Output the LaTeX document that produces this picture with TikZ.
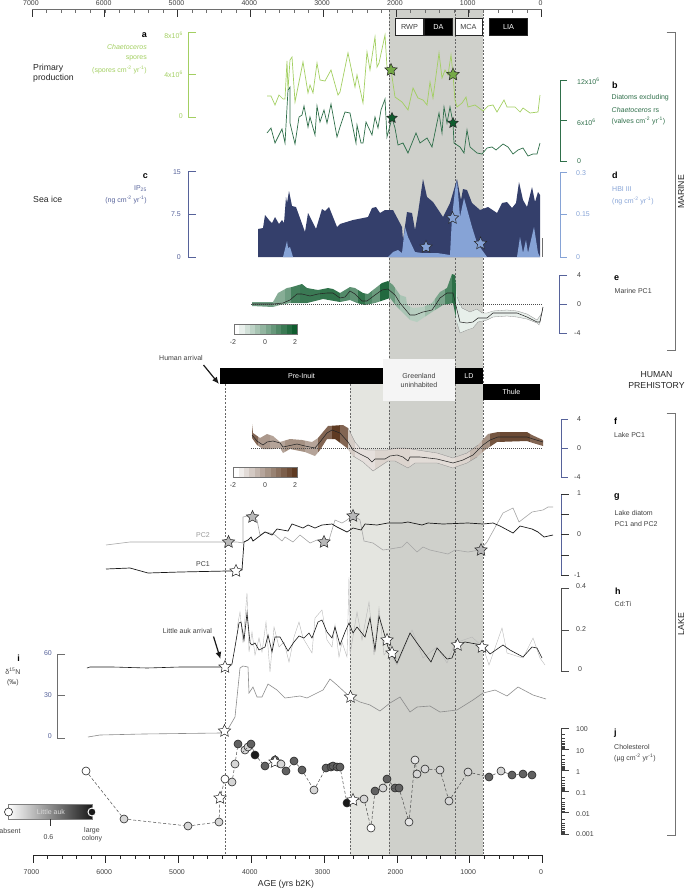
\documentclass[tikz,border=0pt]{standalone}
\usepackage{fontspec}
\setmainfont{Liberation Sans}
\usetikzlibrary{shapes.geometric, arrows.meta, positioning}
\definecolor{bandA}{HTML}{CFD0CB}
\definecolor{bandB}{HTML}{E4E5E0}
\definecolor{spores}{HTML}{A3CF62}
\definecolor{diatoms}{HTML}{2F6F4A}
\definecolor{navyice}{HTML}{343F6B}
\definecolor{axisice}{HTML}{56629A}
\definecolor{hbi}{HTML}{86A3D6}
\definecolor{marineC}{HTML}{0F5C2E}
\definecolor{lakeC}{HTML}{5E3A22}
\definecolor{axisgrey}{HTML}{6E6E6E}
\tikzstyle{tiny} = [font=\fontsize{7}{8.4}\selectfont, inner sep=0pt, text=black!75]
\tikzstyle{panel} = [font=\bfseries\fontsize{9}{10}\selectfont, inner sep=0pt]
\tikzstyle{head} = [font=\fontsize{8.7}{10.4}\selectfont, inner sep=0pt, text=black!85]
\tikzstyle{period} = [draw=black!85, line width=1pt, inner sep=0pt, minimum height=17pt, font=\fontsize{7.3}{8}\selectfont]
\tikzstyle{human} = [fill=black, text=white, inner sep=0pt, font=\fontsize{7.1}{8}\selectfont]
\tikzstyle{event} = [star, star points=5, star point ratio=2.1, draw=black!85, line width=0.5pt, inner sep=0pt, minimum size=13pt]
\tikzstyle{auk} = [circle, draw=black!85, line width=0.6pt, inner sep=0pt, minimum size=8pt]
\tikzstyle{auklink} = [black!70, line width=0.5pt, dash pattern=on 3pt off 2pt]
\tikzstyle{cutline} = [black!60, line width=0.6pt, dash pattern=on 2pt off 1.6pt]
\tikzstyle{zeroline} = [black!70, line width=0.5pt, dash pattern=on 1pt off 1pt]
\tikzstyle{bandedge} = [black!45, line width=0.3pt]
\tikzstyle{bigarrow} = [-{Latex[length=7pt,width=6pt]}, line width=1.2pt, black!90]
\newcommand{\marineband}{(252,302) (273,302) (278,293) (287,288) (292,287) (302,284) (307,288) (318,290) (328,288) (333,289) (340,293) (345,290) (350,287) (355,288) (363,293) (368,294) (373,290) (382,283) (388,281) (393,285) (400,295) (406,297) (407,305) (413,308) (423,307) (432,303) (440,292) (447,288) (452,274) (455,275) (457,297) (462,308) (470,312) (477,309) (482,313) (487,313) (493,311) (507,310) (517,311) (527,314) (537,320) (542,313) (543,307) (539,325) (537,323) (527,319) (517,317) (507,316) (493,317) (487,320) (478,322) (473,328) (467,330) (460,333) (457,323) (453,303) (443,305) (432,312) (423,318) (417,322) (410,320) (403,313) (397,307) (390,298) (375,303) (365,305) (357,303) (350,300) (340,302) (323,299) (307,303) (290,303) (280,305) (273,307) (252,306)}
\newcommand{\lakeband}{(252,424) (253,433) (260,438) (267,434) (273,436) (280,442) (290,439) (302,440) (312,442) (318,438) (328,426) (343,425) (348,428) (355,442) (360,448) (368,450) (387,450) (397,448) (405,448) (417,450) (437,453) (453,458) (467,453) (478,445) (488,434) (498,432) (527,432) (532,435) (543,440) (543,446) (533,443) (527,441) (497,442) (485,450) (477,457) (467,463) (453,468) (437,463) (415,463) (408,468) (395,461) (388,461) (373,471) (363,462) (353,456) (347,448) (335,439) (327,439) (320,450) (315,456) (305,452) (290,449) (283,453) (280,448) (273,449) (263,449) (257,445) (252,438)}

\begin{document}
\begin{tikzpicture}[x=1pt,y=-1pt,>=latex]
    \useasboundingbox (0,0) rectangle (685,889);
    % bands
    \fill[bandA] (389,10) rectangle (483,855);
    \fill[bandB] (350,384) rectangle (389,855);
    \foreach \x in {389,455,483} \draw[cutline] (\x,10) -- (\x,855);
    \foreach \x in {225,350} \draw[cutline] (\x,384) -- (\x,855);

    % age axes
    \draw[axisgrey, line width=1pt] (32,9.5) -- (541.5,9.5);
    \draw[black!85, line width=0.8pt] (33,855) -- (542.5,855);
    \foreach \t in {0,200,...,7000} {
        \draw[axisgrey, line width=0.4pt] ({541.5-\t*0.0728},9.5) -- ++(0,3.5);
        \draw[black!85, line width=0.5pt] ({542.5-\t*0.0728},855) -- ++(0,4);
    }
    \foreach \t in {0,1000,...,7000} {
        \draw[black!80, line width=0.6pt] ({541.5-\t*0.0728},9.5) -- ++(0,7.5);
        \draw[black!85, line width=0.7pt] ({542.5-\t*0.0728},855) -- ++(0,8);
        \node[tiny] (top\t) at ({540.5-\t*0.0728},3) {\t};
        \node[tiny] (bot\t) at ({541-\t*0.0728},872.5) {\t};
    }
    \node[head] (agelabel) at (286,884) {AGE (yrs b2K)};

    % climate periods
    \node[period, fill=white, minimum width=28pt, text=black!75] (rwp) at (409.5,26.5) {RWP};
    \node[period, fill=black, minimum width=28pt, text=white, right=0pt of rwp] (da) {DA};
    \node[period, fill=white, minimum width=27pt, text=black!75] (mca) at (468.5,26.5) {MCA};
    \node[period, fill=black, minimum width=38pt, text=white] (lia) at (508.5,26.5) {LIA};

    % primary production
    \draw[spores, line width=0.7pt] plot coordinates {(267,96) (271,96) (275,105) (279,95) (283,99) (285,99) (287,61) (288,90) (290,60) (292,57) (295,102) (303,62) (308,93) (310,85) (313,93) (317,63) (320,80) (325,81) (331,70) (338,95) (340,92) (348,53) (355,87) (357,75) (363,103) (367,52) (370,70) (375,37) (377,67) (379,63) (385,35) (387,67) (391,70) (395,97) (402,102) (408,110) (413,88) (418,98) (423,100) (427,105) (430,82) (433,98) (439,53) (442,78) (445,70) (448,75) (451,55) (453,75) (455,100) (457,107) (462,103) (466,97) (468,107) (475,105) (483,111) (488,106) (493,105) (497,112) (504,100) (507,107) (515,107) (520,112) (523,108) (530,113) (538,112) (540,95)};
    \draw[diatoms, line width=0.7pt] plot coordinates {(267,133) (271,128) (275,143) (282,129) (285,143) (288,90) (290,87) (290,123) (295,144) (299,117) (302,115) (304,106) (308,127) (310,117) (315,135) (317,106) (320,122) (324,110) (327,123) (331,104) (337,137) (340,127) (345,112) (350,113) (356,143) (357,125) (361,143) (363,143) (366,122) (372,135) (375,117) (378,128) (381,110) (385,99) (387,137) (392,118) (395,128) (398,145) (403,143) (408,153) (416,133) (420,143) (427,138) (432,147) (439,113) (442,133) (444,107) (447,123) (450,107) (453,123) (454,143) (460,147) (464,153) (467,130) (470,147) (477,153) (482,154) (487,148) (492,147) (496,150) (503,144) (508,147) (513,154) (518,150) (523,148) (528,156) (533,154) (537,154) (540,143)};
    \node[event, fill=spores!90!green!80!black] (staraL) at (391,70) {};
    \node[event, fill=spores!90!green!80!black] (staraR) at (453,74.5) {};
    \node[event, fill=marineC, minimum size=11pt] (starbL) at (392,118) {};
    \node[event, fill=marineC, minimum size=11pt] (starbR) at (453,123) {};

    % sea ice
    \fill[navyice] plot coordinates {(258,257) (258,229) (263,228) (265,215) (269,220) (272,223) (275,217) (279,224) (282,220) (284,223) (286,197) (287,203) (289,191) (292,206) (296,207) (305,232) (308,213) (316,229) (322,209) (325,211) (329,207) (337,227) (340,224) (353,220) (368,217) (372,208) (376,207) (380,213) (385,210) (393,210) (402,227) (403,240) (407,212) (412,213) (415,230) (418,213) (423,179) (427,197) (433,202) (443,217) (450,203) (457,179) (461,200) (463,189) (467,190) (472,203) (480,210) (488,207) (497,213) (502,203) (507,202) (512,208) (516,203) (519,182) (523,200) (527,207) (532,187) (535,202) (538,192) (540,195) (540,257)} -- cycle;
    \fill[hbi] plot coordinates {(283,257) (287,241) (288,248) (290,247) (293,257)} -- cycle;
    \fill[hbi] plot coordinates {(388,257) (393,252) (398,250) (402,253) (405,227) (408,237) (415,252) (422,253) (437,253) (450,255) (452,217) (455,190) (457,180) (460,217) (464,198) (472,227) (477,243) (487,257) (517,257) (520,237) (523,253) (526,240) (528,253) (534,227) (538,253) (540,257)} -- cycle;
    \draw[axisgrey, line width=0.7pt] (542,238) -- (542,257);
    \node[event, fill=hbi] (stard1) at (426,247) {};
    \node[event, fill=hbi] (stard2) at (452.5,218) {};
    \node[event, fill=hbi] (stard3) at (480.5,243.5) {};

    % marine PC1
    \begin{scope}
        \clip plot coordinates {\marineband} -- cycle;
        \foreach \xa/\xb/\t in {252/273/60,273/285/50,285/291/60,291/300/78,300/320/82,320/340/86,340/350/72,350/358/66,358/365/86,365/372/72,372/380/62,380/389/92,389/395/62,395/400/46,400/410/36,410/425/30,425/435/40,435/445/55,445/452/75,452/456/88,456/460/14,460/480/10,480/545/9}
            \fill[marineC!\t!white] (\xa,270) rectangle (\xb,340);
    \end{scope}
    \draw[bandedge] plot coordinates {(457,297) (462,308) (470,312) (477,309) (482,313) (487,313) (493,311) (507,310) (517,311) (527,314) (537,320) (542,313) (543,307) (539,325) (537,323) (527,319) (517,317) (507,316) (493,317) (487,320) (478,322) (473,328) (467,330) (460,333) (457,323)};
    \draw[zeroline] (251,304.5) -- (543,304.5);
    \draw[black!85, line width=0.55pt] plot coordinates {(252,304) (273,304) (283,303) (290,300) (297,294) (302,294) (310,296) (318,294) (327,293) (333,293) (340,298) (345,297) (350,291) (355,294) (362,301) (367,301) (375,295) (382,290) (388,289) (395,295) (400,303) (410,315) (415,315) (423,312) (432,310) (440,298) (447,293) (453,293) (457,310) (460,322) (467,323) (473,322) (478,318) (487,318) (493,313) (507,313) (517,313) (527,317) (537,322) (540,322) (543,307)};
    \foreach \i in {0,...,11} {
        \pgfmathsetmacro{\t}{\i*100/11}
        \fill[marineC!\t!white] ({234+\i*5.25},324) rectangle ++(5.25,10);
        \fill[lakeC!\t!white] ({233.5+\i*5.3},467) rectangle ++(5.3,10);
    }
    \draw[black!55, line width=0.5pt] (234,324) rectangle (297,334);
    \draw[black!55, line width=0.5pt] (233.5,467) rectangle (297,477);
    \foreach \x/\lab in {233/-2,265/0,295/2} {
        \node[tiny] (mleg\lab) at (\x,342.5) {\lab};
        \node[tiny] (lleg\lab) at (\x,485) {\lab};
    }

    % lake PC1
    \begin{scope}
        \clip plot coordinates {\lakeband} -- cycle;
        \foreach \xa/\xb/\t in {252/258/78,258/270/52,270/285/46,285/305/56,305/318/46,318/332/78,332/340/100,340/348/78,348/355/26,355/375/16,375/410/22,410/455/18,455/470/22,470/482/36,482/490/56,490/500/86,500/530/92,530/545/78}
            \fill[lakeC!\t!white] (\xa,415) rectangle (\xb,480);
    \end{scope}
    \draw[bandedge] plot coordinates {(348,428) (355,442) (360,448) (368,450) (387,450) (397,448) (405,448) (417,450) (437,453) (453,458) (467,453) (478,445)};
    \draw[bandedge] plot coordinates {(477,457) (467,463) (453,468) (437,463) (415,463) (408,468) (395,461) (388,461) (373,471) (363,462) (353,456)};
    \draw[zeroline] (251,448.5) -- (543,448.5);
    \draw[black!85, line width=0.55pt] plot coordinates {(252,435) (257,441) (263,445) (267,442) (273,441) (280,443) (283,447) (297,444) (305,446) (315,448) (320,442) (327,433) (332,430) (340,433) (348,442) (353,450) (360,454) (368,458) (372,462) (375,459) (385,459) (390,456) (397,455) (403,457) (408,461) (410,457) (420,457) (437,459) (453,463) (463,460) (473,455) (483,445) (490,440) (498,437) (527,437) (533,439) (543,442)};

    % human prehistory
    \node[human, minimum width=164pt, minimum height=16pt] (preinuit) at (301.5,376) {Pre-Inuit};
    \node[human, minimum width=28pt, minimum height=16pt] (ld) at (469,376) {LD};
    \node[human, minimum width=57pt, minimum height=16pt] (thule) at (511.5,392) {Thule};
    \node[fill=white!96!black, minimum width=72pt, minimum height=42pt, inner sep=0pt, align=center, text=black!75, font=\fontsize{7.1}{9}\selectfont] (uninhab) at (419,380) {Greenland\\uninhabited};
    \node[tiny] (humanarr) at (181,358) {Human arrival};
    \coordinate (humanfrom) at (203.5,365);
    \coordinate (humanto) at (219,384);
    \draw[bigarrow] (humanfrom) -- (humanto);

    % lake diatoms
    \draw[black!35, line width=0.6pt] plot coordinates {(106,545) (130,542) (150,542) (190,542) (223,542) (237,542) (243,543) (243,517) (247,516) (257,520) (260,535) (265,532) (270,533) (275,535) (282,541) (285,537) (293,542) (300,535) (310,543) (317,540) (323,543) (329,540) (335,520) (342,523) (347,520) (353,515) (360,520) (364,541) (373,543) (383,550) (390,549) (402,547) (407,542) (417,552) (423,547) (430,550) (448,554) (455,550) (468,552) (480,550) (487,542) (503,513) (513,508) (519,522) (532,512) (543,510) (548,507) (553,507)};
    \draw[black!90, line width=0.7pt] plot coordinates {(106,569) (130,568) (148,573) (180,572) (227,571) (237,571) (242,570) (244,542) (248,540) (251,537) (253,541) (265,532) (272,535) (277,529) (288,531) (292,524) (303,528) (308,525) (315,528) (322,525) (332,524) (337,527) (347,532) (353,528) (361,530) (365,524) (377,525) (388,523) (402,523) (408,522) (422,525) (428,523) (443,524) (468,523) (483,524) (493,523) (500,526) (513,533) (520,526) (532,529) (538,532) (544,537) (553,535)};
    \node[tiny, text=black!40] (pctwo) at (203,535) {PC2};
    \node[tiny] (pcone) at (203,564) {PC1};
    \foreach \n/\x/\y in {g1/228.5/542,g2/252.5/517,g3/324/542,g4/353/516,g5/481/550}
        \node[event, fill=black!28] (star\n) at (\x,\y) {};
    \node[event, fill=white] (stargw) at (236,571) {};

    % Cd:Ti
    \draw[black!28, line width=0.4pt] plot coordinates {(237,628) (240,612) (243,643) (247,593) (249,652) (252,632) (255,655) (259,638) (262,652) (266,622) (270,672) (274,627) (279,647) (284,642) (289,662) (294,637) (299,622) (303,638) (312,653) (315,618) (322,610) (327,640) (332,647) (335,625) (339,657) (342,642) (347,657) (349,577) (350,655) (357,612) (362,640) (369,602) (374,655) (379,608) (384,655) (388,650) (397,665) (412,630) (423,658) (437,647) (447,663) (455,643) (472,637) (483,647) (489,665) (502,628) (507,653) (523,658) (533,638) (540,658) (545,665)};
    \draw[black!90, line width=0.6pt] plot coordinates {(87,668) (90,667) (113,667) (147,668) (180,667) (220,667) (232,664) (235,647) (239,623) (241,622) (244,640) (247,613) (250,643) (252,645) (255,643) (259,650) (265,647) (268,635) (272,652) (275,637) (280,637) (288,651) (294,642) (299,636) (304,638) (309,633) (312,638) (318,622) (322,620) (327,632) (332,638) (335,627) (340,645) (345,632) (349,623) (353,633) (357,627) (365,637) (370,618) (375,650) (379,616) (384,633) (388,647) (397,663) (410,633) (417,643) (431,662) (437,648) (447,659) (452,658) (457,645) (465,642) (482,645) (490,654) (503,645) (510,650) (523,657) (532,647) (537,648) (542,658)};
    \node[tiny] (aukarr) at (187.5,630.5) {Little auk arrival};
    \coordinate (aukfrom) at (213.5,636.5);
    \coordinate (aukto) at (220.5,659);
    \draw[bigarrow] (aukfrom) -- (aukto);
    \foreach \n/\x/\y in {h1/225/667,h2/387/640,h3/392/653,h4/457.5/645,h5/482/647}
        \node[event, fill=white] (star\n) at (\x,\y) {};

    % delta 15N
    \draw[black!45, line width=0.6pt] plot coordinates {(88,737) (100,735) (143,734) (220,733) (228,729) (235,717) (240,668) (243,666) (248,667) (249,693) (253,687) (257,697) (262,697) (268,684) (277,690) (285,698) (300,696) (307,698) (323,690) (330,679) (337,685) (350,697) (360,702) (370,705) (380,711) (390,703) (400,697) (410,712) (417,707) (430,706) (440,712) (457,710) (473,700) (483,693) (495,690) (507,696) (518,687) (533,695) (546,699)};
    \node[event, fill=white] (stari1) at (350.5,697) {};
    \node[event, fill=white] (stari2) at (224.5,731) {};

    % cholesterol
    \foreach \n/\x/\y/\t in {1/86/771/0,2/124/819/16,3/188/826/16,4/219/822/16}
        \node[auk, fill=black!\t] (p\n) at (\x,\y) {};
    \node[event, fill=white] (p5) at (220,798) {};
    \foreach \n/\x/\y/\t in {6/225/779/0,7/232/782/16,8/235/764/16,9/238/744/62,10/245/750/16,11/248/747/16,12/251/744/62,13/255/755/90,14/265/766/62,15/275/760/62}
        \node[auk, fill=black!\t] (p\n) at (\x,\y) {};
    \node[event, fill=white] (p16) at (275,762) {};
    \foreach \n/\x/\y/\t in {17/281/764/16,18/286/771/62,19/294/761/62,20/302/770/62,21/314/790/16,22/326/768/62,23/331/767/62,24/333/766/62,25/337/767/62,26/340/767/62,27/347/803/90}
        \node[auk, fill=black!\t] (p\n) at (\x,\y) {};
    \node[event, fill=white] (p28) at (353,800) {};
    \foreach \n/\x/\y/\t in {29/364/799/16,30/371/828/0,31/375/791/62,32/383/788/16,33/387/779/62,34/395/788/62,35/399/788/62,36/409/822/10,37/415/760/10,38/417/774/16,39/425/769/16,40/440/770/16,41/449/801/16,42/468/772/16,43/489/777/62,44/501/771/16,45/512/775/62,46/523/774/62,47/532/775/62}
        \node[auk, fill=black!\t] (p\n) at (\x,\y) {};
    \foreach \i [remember=\i as \j (initially 1)] in {2,...,47}
        \draw[auklink] (p\j) -- (p\i);

    % little auk legend
    \shade[left color=white, right color=black!90, draw=black!50, line width=0.5pt] (8,804) rectangle (92,819);
    \node[auk, fill=white] (absentdot) at (8.5,812) {};
    \node[auk, fill=black!90, draw=white, line width=1pt] (colonydot) at (92,812) {};
    \node[tiny, text=white!85!black] (auklegend) at (51,812) {Little auk};
    \coordinate (leghigh) at (50,819);
    \coordinate (leglow) at (50,826);
    \draw[black!80, line width=0.8pt] (leghigh) -- (leglow);
    \node[tiny] (absentlab) at (10,830.5) {absent};
    \node[tiny] (sixlab) at (48.5,837) {0.6};
    \node[tiny, align=center] (colonylab) at (92,834.5) {large\\colony};

    % left axes
    \draw[spores, line width=0.8pt] (196,32) -- (188,32) -- (188,117) -- (196,117) (188,74.5) -- (196,74.5);
    \draw[axisice, line width=0.8pt] (196,171.5) -- (188,171.5) -- (188,257) -- (196,257) (188,214.5) -- (196,214.5);
    \draw[axisgrey, line width=0.7pt] (65,654.5) -- (57.7,654.5) -- (57.7,738) -- (65,738) (57.7,695.7) -- (65,695.7);
    \node[tiny, anchor=east, text=spores] (a8) at (183,35) {8x10\textsuperscript{6}};
    \node[tiny, anchor=east, text=spores] (a4) at (183,74.5) {4x10\textsuperscript{6}};
    \node[tiny, anchor=east, text=spores] (a0) at (183,116.5) {0};
    \node[tiny, anchor=east, text=axisice] (c15) at (181,172) {15};
    \node[tiny, anchor=east, text=axisice] (c7) at (181,214.5) {7.5};
    \node[tiny, anchor=east, text=axisice] (c0) at (181,257) {0};
    \node[tiny, anchor=east, text=axisice] (i60) at (52,653) {60};
    \node[tiny, anchor=east, text=axisice] (i30) at (52,695.5) {30};
    \node[tiny, anchor=east, text=axisice] (i0) at (52,736) {0};

    % left labels
    \node[head, anchor=west, align=left] (primary) at (33,73.5) {Primary\\production};
    \node[head, anchor=west] (seaice) at (33,199.5) {Sea ice};
    \node[panel, anchor=east] (lab a) at (147,35) {a};
    \node[tiny, anchor=east, text=spores] (lab a1) at (147,47) {\itshape Chaetoceros};
    \node[tiny, anchor=east, text=spores] (lab a2) at (147,58.5) {spores};
    \node[tiny, anchor=east, text=spores] (lab a3) at (147,70) {(spores cm\textsuperscript{-2} yr\textsuperscript{-1})};
    \node[panel, anchor=east] (lab c) at (148,176) {c};
    \node[tiny, anchor=east, text=axisice] (lab c1) at (147,189) {IP\textsubscript{25}};
    \node[tiny, anchor=east, text=axisice] (lab c2) at (147,200) {(ng cm\textsuperscript{-2} yr\textsuperscript{-1})};
    \node[panel] (lab i) at (18.5,658) {i};
    \node[tiny] (lab i1) at (13,671) {δ\textsuperscript{15}N};
    \node[tiny] (lab i2) at (13,683) {(‰)};

    % right axes
    \draw[diatoms, line width=0.8pt] (567,80) -- (560,80) -- (560,161) -- (567,161) (560,120.5) -- (567,120.5);
    \draw[hbi, line width=0.8pt] (567,172) -- (560,172) -- (560,257) -- (567,257) (560,214.5) -- (567,214.5);
    \draw[axisice, line width=0.7pt] (567,275) -- (559.5,275) -- (559.5,333) -- (567,333) (559.5,304) -- (567,304);
    \draw[axisice, line width=0.7pt] (568,419) -- (561,419) -- (561,477) -- (568,477) (561,448) -- (568,448);
    \draw[axisice, line width=0.8pt] (561,494) -- (561,575);
    \foreach \y in {494,514,534,555,575} \draw[black!80, line width=0.6pt] (561,\y) -- (569,\y);
    \draw[black!70, line width=0.7pt] (569,588) -- (561,588) -- (561,671) -- (569,671) (561,630) -- (569,630);
    \draw[black!75, line width=0.7pt] (561,728) -- (561,834) -- (569,834);
    \foreach \y in {728,749.2,770.4,791.6,812.8} {
        \draw[black!75, line width=0.9pt] (561,\y) -- (569,\y);
        \foreach \m in {0.301,0.477,0.602,0.699,0.778,0.845,0.903,0.954}
            \draw[black!75, line width=0.3pt] (561,{\y+21.2*\m}) -- (565,{\y+21.2*\m});
    }
    \foreach \n/\y/\lab in {j1/729/100,j2/751/10,j3/772/1,j4/793/0.1,j5/814/0.01,j6/834/0.001}
        \node[tiny, anchor=west] (\n) at (576,\y) {\lab};
    \node[tiny, anchor=west, text=diatoms] (b12) at (577,81) {12x10\textsuperscript{6}};
    \node[tiny, anchor=west, text=diatoms] (b6) at (577,122) {6x10\textsuperscript{6}};
    \node[tiny, anchor=west, text=diatoms] (b0) at (577,161) {0};
    \node[tiny, anchor=west, text=hbi] (d3) at (576,173) {0.3};
    \node[tiny, anchor=west, text=hbi] (d15) at (576,214.5) {0.15};
    \node[tiny, anchor=west, text=hbi] (d0) at (576,257) {0};
    \foreach \n/\y/\lab in {e4/275/4,e0/304/0,f4/419/4,f0/448/0,g1/493/1,g0/534/0}
        \node[tiny, anchor=west] (\n) at (577,\y) {\lab};
    \node[tiny, anchor=west] (em4) at (574,333) {-4};
    \node[tiny, anchor=west] (fm4) at (574,477) {-4};
    \node[tiny, anchor=west] (gm1) at (574,575) {-1};
    \node[tiny, anchor=west] (h4) at (576,586.5) {0.4};
    \node[tiny, anchor=west] (h2) at (576,629) {0.2};
    \node[tiny, anchor=west] (h0) at (578,669.5) {0};

    % right labels
    \node[panel, anchor=west] (lab b) at (612,85) {b};
    \node[tiny, anchor=west, text=diatoms] (lab b1) at (611.5,97.5) {Diatoms excluding};
    \node[tiny, anchor=west, text=diatoms] (lab b2) at (611.5,109.5) {\itshape Chaetoceros \upshape rs};
    \node[tiny, anchor=west, text=diatoms] (lab b3) at (611.5,121) {(valves cm\textsuperscript{-2} yr\textsuperscript{-1})};
    \node[panel, anchor=west] (lab d) at (612,175.5) {d};
    \node[tiny, anchor=west, text=hbi] (lab d1) at (612,189) {HBI III};
    \node[tiny, anchor=west, text=hbi] (lab d2) at (612,200.5) {(ng cm\textsuperscript{-2} yr\textsuperscript{-1})};
    \node[panel, anchor=west] (lab e) at (614,278) {e};
    \node[tiny, anchor=west] (lab e1) at (614.5,290.5) {Marine PC1};
    \node[panel, anchor=west] (lab f) at (614,421) {f};
    \node[tiny, anchor=west] (lab f1) at (614,435) {Lake PC1};
    \node[panel, anchor=west] (lab g) at (614,497) {g};
    \node[tiny, anchor=west] (lab g1) at (614.5,512.5) {Lake diatom};
    \node[tiny, anchor=west] (lab g2) at (614.5,524) {PC1 and PC2};
    \node[panel, anchor=west] (lab h) at (615,591) {h};
    \node[tiny, anchor=west] (lab h1) at (614.5,603.5) {Cd:Ti};
    \node[panel, anchor=west] (lab j) at (614,733) {j};
    \node[tiny, anchor=west] (lab j1) at (614,746.5) {Cholesterol};
    \node[tiny, anchor=west] (lab j2) at (614,758) {(µg cm\textsuperscript{-2} yr\textsuperscript{-1})};

    % brackets
    \draw[black!55, line width=0.8pt] (666.5,32.5) -- (675,32.5) -- (675,350) -- (666.5,350);
    \draw[black!55, line width=0.8pt] (666.5,413) -- (675.5,413) -- (675.5,835) -- (666.5,835);
    \node[head, rotate=90] (marinelab) at (681,192) {MARINE};
    \node[head, rotate=90] (lakelab) at (681,624) {LAKE};
    \node[head, align=center] (humanlab) at (656.5,380) {HUMAN\\PREHISTORY};
\end{tikzpicture}
\end{document}
